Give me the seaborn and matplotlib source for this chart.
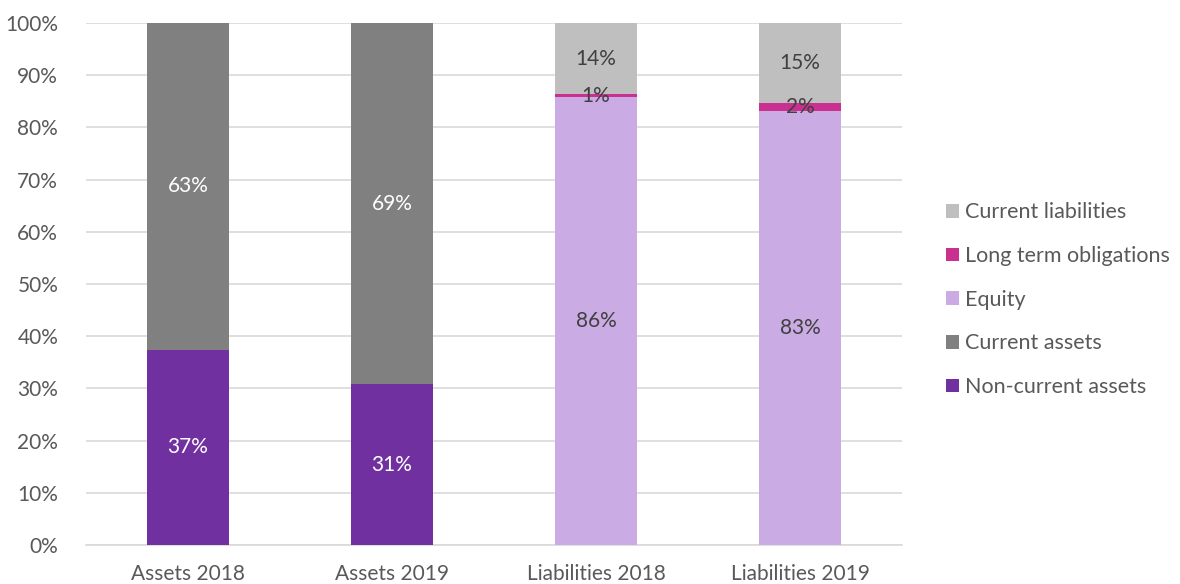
import numpy as np
import pandas as pd
import seaborn as sns
import matplotlib.pyplot as plt

# Balance sheet structure, share of total (%)
categories = ["Assets 2018", "Assets 2019", "Liabilities 2018", "Liabilities 2019"]
non_current_assets = [37.4, 30.8, 0.0, 0.0]
current_assets = [62.6, 69.2, 0.0, 0.0]
equity = [0.0, 0.0, 85.8, 83.2]
long_term_obligations = [0.0, 0.0, 0.6, 1.5]
current_liabilities = [0.0, 0.0, 13.6, 15.3]

# stacking order, bottom to top
series = [
    ("Non-current assets", non_current_assets, "#7030A0", "white"),
    ("Current assets", current_assets, "#808080", "white"),
    ("Equity", equity, "#CBABE3", "#404040"),
    ("Long term obligations", long_term_obligations, "#C9308F", "#404040"),
    ("Current liabilities", current_liabilities, "#BFBFBF", "#404040"),
]

sns.set_theme(style="white")
plt.rcParams["font.family"] = ["Lato", "DejaVu Sans"]
FS = 15

fig = plt.figure(figsize=(11.8, 5.84), dpi=100)
ax = fig.add_axes([0.0729, 0.0668, 0.6915, 0.8938])

bottom = np.zeros(len(categories))
for name, vals, color, txt in series:
    vals = np.asarray(vals, dtype=float)
    df = pd.DataFrame({"cat": categories, "val": vals})
    sns.barplot(data=df, x="cat", y="val", bottom=bottom, color=color,
                saturation=1, width=0.4, linewidth=0, label=name, ax=ax, zorder=3)
    for i, v in enumerate(vals):
        if v > 0:
            ax.text(i, bottom[i] + v / 2, f"{v:.0f}%", ha="center", va="center",
                    fontsize=FS, color=txt, zorder=5)
    bottom = bottom + vals

ax.set_xlim(-0.5, len(categories) - 0.5)
ax.set_ylim(0, 100)
ax.set_yticks(np.arange(0, 101, 10))
ax.set_yticklabels([f"{t}%" for t in range(0, 101, 10)])
ax.set_xlabel("")
ax.set_ylabel("")
ax.yaxis.grid(True, color="#D9D9D9", linewidth=1.2, zorder=0)
ax.set_axisbelow(True)
for s in ["top", "right", "left"]:
    ax.spines[s].set_visible(False)
ax.spines["bottom"].set_color("#D9D9D9")
ax.spines["bottom"].set_linewidth(1.2)
ax.tick_params(axis="both", length=0, labelsize=FS, colors="#595959")
ax.tick_params(axis="y", pad=20)
ax.tick_params(axis="x", pad=14)

handles, labels = ax.get_legend_handles_labels()
leg = ax.legend(handles[::-1], labels[::-1], loc="center left",
                bbox_to_anchor=(1.03, 0.47), frameon=False, fontsize=15.5,
                handlelength=0.6, handleheight=0.6, handletextpad=0.3,
                labelspacing=1.1, labelcolor="#595959")

fig.savefig("out.png", dpi=100)
